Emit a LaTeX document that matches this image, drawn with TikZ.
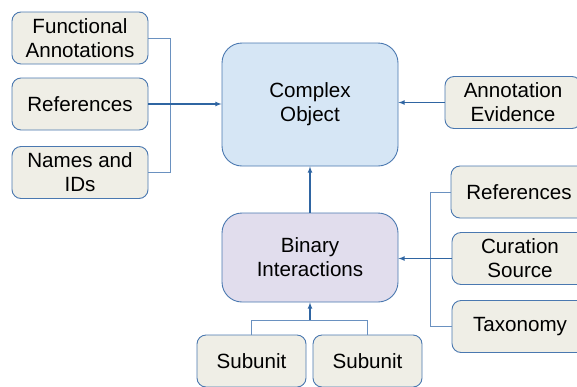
\documentclass[tikz,border=0pt]{standalone}
\usepackage{fontspec}
\setmainfont{Liberation Sans}
\usepackage{tikz}
\usetikzlibrary{arrows,positioning}

\definecolor{boxfill}{HTML}{EFEEE6}
\definecolor{boxline}{HTML}{4A78B0}
\definecolor{cofill}{HTML}{D6E6F5}
\definecolor{bifill}{HTML}{E1DDED}
\definecolor{arrline}{HTML}{2F65A2}
\definecolor{brline}{HTML}{6A91C0}

\tikzset{
	leaf/.style={draw=boxline, line width=0.9pt, fill=boxfill, rounded corners=9pt,
		minimum width=136pt, minimum height=52pt, align=center, inner sep=0pt,
		font=\fontsize{20.6}{24}\selectfont},
	hub/.style={leaf, rounded corners=20pt, minimum width=176pt},
	feed/.style={arrline, line width=1.1pt, -latex},
	branch/.style={brline, line width=1pt}
}

\begin{document}
\begin{tikzpicture}[x=1pt,y=-1pt]

			\clip (0,0) rectangle (577,386);
			\fill[white] (0,0) rectangle (577,386);

			% main objects
			\node[hub, fill=cofill, minimum height=123pt] (co) at (310,104.5) {Complex\\Object};
			\node[hub, fill=bifill, minimum height=89pt] (bi) at (310,257.5) {Binary\\Interactions};

			% left group
			\node[leaf] (fa) at (80,38) {Functional\\Annotations};
			\node[leaf] (refl) at (80,104) {References};
			\node[leaf] (ni) at (80,172.5) {Names and\\IDs};
			\coordinate (jl) at (170,104);

			\draw[branch] (fa.east) -| (jl);
			\draw[branch] (ni.east) -| (jl);
			\draw[feed] (refl.east) -- (co.west |- refl.east);

			% evidence
			\node[leaf] (ae) at (513,102.5) {Annotation\\Evidence};
			\draw[feed] (ae.west) -- (co.east |- ae.west);

			% right group
			\node[leaf] (refr) at (519,192) {References};
			\node[leaf] (cs) at (520,258.5) {Curation\\Source};
			\node[leaf] (tax) at (520,326.5) {Taxonomy};
			\coordinate (jr) at (430,258.5);

			\draw[branch] (refr.west) -| (jr);
			\draw[branch] (tax.west) -| (jr);
			\draw[feed] (cs.west) -- (bi.east |- cs.west);

			% subunits
			\node[leaf, minimum width=109pt] (su1) at (251.5,361) {Subunit};
			\node[leaf, minimum width=109pt] (su2) at (367.5,361) {Subunit};
			\coordinate (jb) at (310,320);

			\draw[branch] (su1.north) |- (jb);
			\draw[branch] (su2.north) |- (jb);
			\draw[feed] (jb) -- (bi.south);

			\draw[feed] (bi.north) -- (co.south);
		\end{tikzpicture}
\end{document}
